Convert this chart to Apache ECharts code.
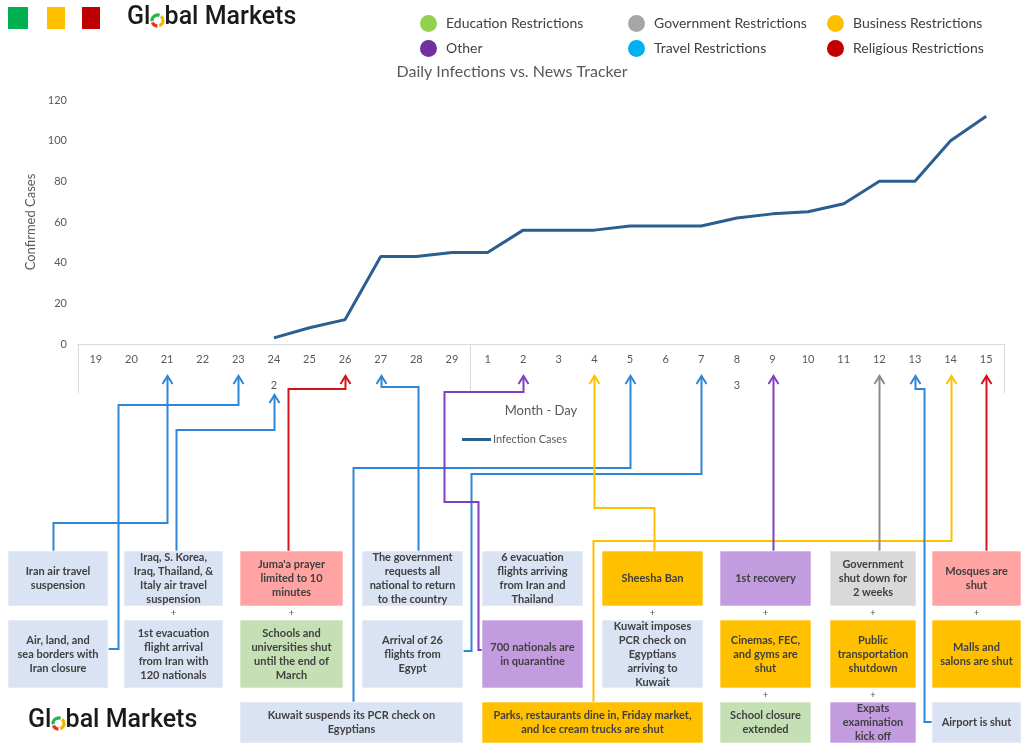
<!DOCTYPE html>
<html>
<head>
<meta charset="utf-8">
<script src="https://cdn.jsdelivr.net/npm/echarts@6.0.0/dist/echarts.min.js"></script>
<style>
html,body{margin:0;padding:0;background:#fff;}
#chart{width:1024px;height:755px;}
</style>
</head>
<body>
<div id="chart"></div>
<script>
// ---------------- DATA ----------------
const febDays = ['19','20','21','22','23','24','25','26','27','28','29'];
const marDays = ['1','2','3','4','5','6','7','8','9','10','11','12','13','14','15'];
const monthLabels = ['2','3'];
const dayLabels = febDays.concat(marDays);
const infectionCases = [null,null,null,null,null,3,8,12,43,43,45,45,56,56,56,58,58,58,62,64,65,69,80,80,100,112];
const yMin = 0, yMax = 120, yInterval = 20;

const chartTitle = 'Daily Infections vs. News Tracker';
const yAxisName = 'Confirmed Cases';
const xAxisName = 'Month - Day';
const seriesName = 'Infection Cases';

const categoryNames = ['Education Restrictions','Government Restrictions','Business Restrictions','Other','Travel Restrictions','Religious Restrictions'];

const eventTexts = [
  'Iran air travel\nsuspension',
  'Air, land, and\nsea borders with\nIran closure',
  'Iraq, S. Korea,\nIraq, Thailand, &\nItaly air travel\nsuspension',
  '1st evacuation\nflight arrival\nfrom Iran with\n120 nationals',
  "Juma'a prayer\nlimited to 10\nminutes",
  'Schools and\nuniversities shut\nuntil the end of\nMarch',
  'Kuwait suspends its PCR check on\nEgyptians',
  'The government\nrequests all\nnational to return\nto the country',
  'Arrival of 26\nflights from\nEgypt',
  '6 evacuation\nflights arriving\nfrom Iran and\nThailand',
  '700 nationals are\nin quarantine',
  'Parks, restaurants dine in, Friday market,\nand Ice cream trucks are shut',
  'Sheesha Ban',
  'Kuwait imposes\nPCR check on\nEgyptians\narriving to\nKuwait',
  '1st recovery',
  'Cinemas, FEC,\nand gyms are\nshut',
  'School closure\nextended',
  'Government\nshut down for\n2 weeks',
  'Public\ntransportation\nshutdown',
  'Expats\nexamination\nkick off',
  'Mosques are\nshut',
  'Malls and\nsalons are shut',
  'Airport is shut'
];
const eventTypes = [
  'Travel Restrictions','Travel Restrictions','Travel Restrictions','Travel Restrictions',
  'Religious Restrictions','Education Restrictions','Travel Restrictions','Travel Restrictions',
  'Travel Restrictions','Travel Restrictions','Other','Business Restrictions',
  'Business Restrictions','Travel Restrictions','Other','Business Restrictions',
  'Education Restrictions','Government Restrictions','Business Restrictions','Other',
  'Religious Restrictions','Business Restrictions','Travel Restrictions'
];
const eventDates = [
  '2-21','2-23','2-24','2-24','2-26','2-26','3-5','2-27','3-7',null,'3-2','3-14',
  '3-4','3-4','3-9','3-9','3-9','3-12','3-12','3-12','3-15','3-15','3-13'
];

// ---------------- STYLES / LAYOUT ----------------
const FONT = 'Lato, "Open Sans", sans-serif';
const legendColors = {
  'Education Restrictions':'#92D050','Government Restrictions':'#A6A6A6','Business Restrictions':'#FFC000',
  'Other':'#7030A0','Travel Restrictions':'#00B0F0','Religious Restrictions':'#C00000'
};
const boxFill = {
  'Education Restrictions':'#C5E0B4','Government Restrictions':'#D9D9D9','Business Restrictions':'#FFC000',
  'Other':'#C39BDF','Travel Restrictions':'#DAE3F3','Religious Restrictions':'#FFA3A3'
};
const lineColor = {
  'Education Restrictions':'#70AD47','Government Restrictions':'#8C8C8C','Business Restrictions':'#FFC000',
  'Other':'#7F3FBF','Travel Restrictions':'#2E86D6','Religious Restrictions':'#D0141C'
};
const boxRects = [
  [8,551,100,55],[8,620,100,68],[124,551,99,55],[124,620,99,68],
  [240,551,103,55],[240,620,103,68],[240,702,223,41],
  [362,551,101,55],[362,620,101,68],
  [482,551,101,55],[482,620,101,68],[482,702,221,41],
  [602,551,101,55],[602,620,101,68],
  [720,551,91,55],[720,620,91,68],[720,702,91,41],
  [830,551,86,55],[830,620,86,68],[830,702,86,41],
  [932,551,89,55],[932,620,89,68],[932,702,89,41]
];
const plusJoins = [[2,3],[4,5],[12,13],[14,15],[15,16],[17,18],[18,19],[20,21]];
const routes = {
  0:[[53,551],[53,523]],
  1:[[108,649],[118,649],[118,405]],
  2:[[176,551],[176,430]],
  4:[[288,551],[288,389]],
  6:[[353,702],[353,468]],
  7:[[418,551],[418,387]],
  8:[[463,651],[471,651],[471,474]],
  10:[[482,650],[478,650],[478,502],[444,502],[444,392]],
  11:[[593,702],[593,541]],
  12:[[654,551],[654,508]],
  14:[[null,551]],
  17:[[null,551]],
  20:[[null,551]],
  22:[[932,722],[924,722],[924,389]]
};
const tipDrop = {2:51};
const defaultTipDrop = 32;

// ---------------- CHART ----------------
const chart = echarts.init(document.getElementById('chart'), null, {renderer:'canvas'});

const series = [{
  name: seriesName, type:'line', data: infectionCases, symbol:'none', connectNulls:false,
  lineStyle:{color:'#2A5F8F', width:3}, itemStyle:{color:'#2A5F8F'}, z:5, silent:true
}];
categoryNames.forEach(n => series.push({name:n, type:'scatter', data:[], itemStyle:{color:legendColors[n], opacity:1}}));

const catLegend = (names, left) => ({
  data: names.map(n => ({name:n, itemStyle:{color:legendColors[n], opacity:1}})),
  left: left, top: 15, orient:'vertical', itemGap: 8, icon:'circle',
  itemWidth:17, itemHeight:17, selectedMode:false, padding:0,
  textStyle:{color:'#404040', fontSize:14, fontFamily:FONT, padding:[0,0,0,4]}
});

chart.setOption({
  animation:false,
  backgroundColor:'#fff',
  title:{text:chartTitle, left:'center', top:64, padding:0,
    textStyle:{color:'#595959', fontSize:16, fontWeight:'normal', fontFamily:FONT}},
  grid:{left:78, right:20, top:100, bottom:411, containLabel:false},
  legend:[
    {data:[seriesName], left:462, top:434, icon:'rect', itemWidth:29, itemHeight:3, selectedMode:false, padding:0,
      textStyle:{color:'#595959', fontSize:11, fontFamily:FONT, padding:[0,0,0,-3]}},
    catLegend([categoryNames[0],categoryNames[3]], 420),
    catLegend([categoryNames[1],categoryNames[4]], 628),
    catLegend([categoryNames[2],categoryNames[5]], 827)
  ],
  xAxis:{type:'category', data:dayLabels, boundaryGap:true,
    axisLine:{show:true, lineStyle:{color:'#D9D9D9', width:1}},
    axisTick:{show:false}, splitLine:{show:false},
    axisLabel:{color:'#595959', fontSize:11, fontFamily:FONT, margin:10, interval:0},
    name:xAxisName, nameLocation:'middle', nameGap:60,
    nameTextStyle:{color:'#595959', fontSize:13, fontFamily:FONT}},
  yAxis:{type:'value', min:yMin, max:yMax, interval:yInterval,
    axisLine:{show:false}, axisTick:{show:false}, splitLine:{show:false},
    axisLabel:{color:'#595959', fontSize:11, fontFamily:FONT, margin:11},
    name:yAxisName, nameLocation:'middle', nameGap:37,
    nameTextStyle:{color:'#595959', fontSize:13, fontFamily:FONT}},
  series: series
});

// ---------------- ANNOTATIONS ----------------
function dayIndex(d){
  const [m, day] = d.split('-');
  return m === monthLabels[0] ? febDays.indexOf(day) : febDays.length + marDays.indexOf(day);
}
function xOf(i){ return chart.convertToPixel({xAxisIndex:0}, dayLabels[i]); }
const y0 = chart.convertToPixel({yAxisIndex:0}, yMin);
const band = xOf(1) - xOf(0);

const els = [];
[['#00B050',8,20],['#FFC000',47,18],['#C00000',82,18]].forEach(s => {
  els.push({type:'rect', shape:{x:s[1], y:7, width:s[2], height:22}, style:{fill:s[0]}});
});

const mctx = document.createElement('canvas').getContext('2d');
function logo(x, mid, fs){
  const font = '500 ' + fs + 'px Roboto';
  mctx.font = font;
  const w1 = mctx.measureText('Gl').width;
  const wo = mctx.measureText('o').width;
  els.push({type:'text', style:{text:'Gl', x:x, y:mid, font:font, fill:'#1A1A1A', textAlign:'left', textVerticalAlign:'middle'}});
  const cx = x + w1 + wo/2, cy = mid + fs*0.1, r = fs*0.22, lw = fs*0.13;
  [['#2DB34A',Math.PI*0.95,Math.PI*1.62],['#F7B500',Math.PI*1.72,Math.PI*2.4],['#E53221',Math.PI*0.5,Math.PI*0.88]].forEach(a=>{
    els.push({type:'arc', shape:{cx:cx, cy:cy, r:r, startAngle:a[1], endAngle:a[2], clockwise:true},
      style:{stroke:a[0], lineWidth:lw, fill:null}});
  });
  els.push({type:'text', style:{text:'bal Markets', x:x + w1 + wo, y:mid, font:font, fill:'#1A1A1A', textAlign:'left', textVerticalAlign:'middle'}});
}
logo(127, 18, 25);
logo(28, 721, 25);

const sepXs = [xOf(0) - band/2, xOf(febDays.length) - band/2, xOf(dayLabels.length-1) + band/2];
sepXs.forEach(x => els.push({type:'line', shape:{x1:Math.round(x)+0.5, y1:y0, x2:Math.round(x)+0.5, y2:y0+49}, style:{stroke:'#D9D9D9', lineWidth:1}}));

const monthCenters = [
  (xOf(0) + xOf(febDays.length-1))/2,
  (xOf(febDays.length) + xOf(dayLabels.length-1))/2
];
monthLabels.forEach((m, i) => els.push({type:'text', style:{text:m, x:monthCenters[i], y:y0+41, fill:'#595959',
  font:'11px ' + FONT, textAlign:'center', textVerticalAlign:'middle'}}));

Object.keys(routes).forEach(k => {
  const i = +k;
  const tx = Math.round(xOf(dayIndex(eventDates[i]))) + 0.5;
  const tipY = y0 + (tipDrop[i] || defaultTipDrop);
  const pts = routes[i].map(p => [p[0] === null ? tx : p[0] + 0.5, p[1]]);
  const last = pts[pts.length-1];
  if (last[0] !== tx) pts.push([tx, last[1]]);
  pts.push([tx, tipY]);
  const col = lineColor[eventTypes[i]];
  els.push({type:'polyline', shape:{points:pts}, style:{stroke:col, lineWidth:2, fill:null}, z:1});
  els.push({type:'polyline', shape:{points:[[tx-5, tipY+8],[tx, tipY],[tx+5, tipY+8]]}, style:{stroke:col, lineWidth:2, fill:null}, z:1});
});

eventTexts.forEach((t, i) => {
  const r = boxRects[i];
  els.push({type:'rect', shape:{x:r[0], y:r[1], width:r[2], height:r[3]}, style:{fill:boxFill[eventTypes[i]], stroke:'rgba(255,255,255,0.6)', lineWidth:1}, z:2});
  els.push({type:'text', style:{text:t, x:r[0]+r[2]/2, y:r[1]+r[3]/2, fill:'#404040', font:'bold 11px ' + FONT,
    lineHeight:14, textAlign:'center', textVerticalAlign:'middle'}, z:3});
});

plusJoins.forEach(j => {
  const a = boxRects[j[0]], b = boxRects[j[1]];
  els.push({type:'text', style:{text:'+', x:a[0]+a[2]/2, y:(a[1]+a[3]+b[1])/2, fill:'#595959', font:'10px ' + FONT,
    textAlign:'center', textVerticalAlign:'middle'}, z:3});
});

chart.setOption({graphic: els});
</script>
</body>
</html>
